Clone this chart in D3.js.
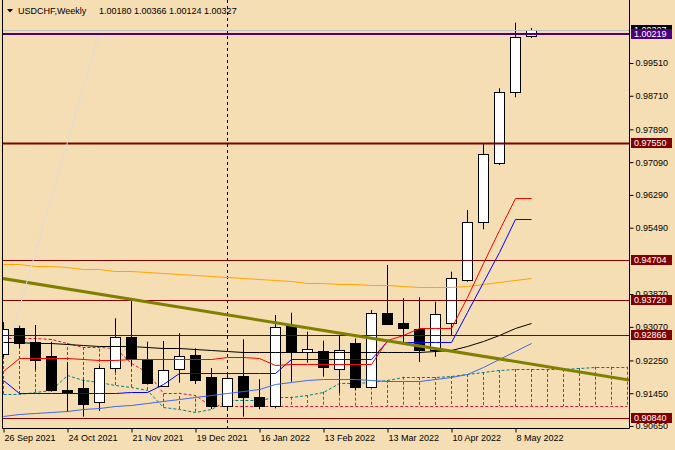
<!DOCTYPE html>
<html>
<head>
<meta charset="utf-8">
<script src="https://d3js.org/d3.v7.min.js"></script>
<style>
  body { margin: 0; background: #F5DEB3; }
  svg { display: block; font-family: "Liberation Sans", Arial, sans-serif; }
</style>
</head>
<body>
<script>
// USDCHF weekly, bars from 26 Sep 2021 to 15 May 2022
const opens  = [0.92407, 0.93042, 0.92693, 0.92358, 0.91529, 0.91570, 0.91228, 0.92058, 0.92822, 0.92261,
                0.91634, 0.92034, 0.92383, 0.91853, 0.91138, 0.91870, 0.91350, 0.91138, 0.93091, 0.92449,
                0.92488, 0.92034, 0.92683, 0.91609, 0.93415, 0.93157, 0.93010, 0.92505, 0.93157, 0.94214,
                0.95636, 0.97062, 0.98795, 1.00180];
const highs  = [0.93188, 0.93098, 0.93115, 0.92707, 0.92212, 0.91773, 0.92114, 0.93279, 0.93774, 0.92707,
                0.92725, 0.92913, 0.92546, 0.92066, 0.91968, 0.92766, 0.91790, 0.93359, 0.93415, 0.92952,
                0.92732, 0.92871, 0.92790, 0.93481, 0.94580, 0.93767, 0.93791, 0.93684, 0.94416, 0.95922,
                0.97550, 0.98893, 1.00494, 1.00366];
const lows   = [0.92334, 0.92554, 0.92017, 0.91487, 0.90992, 0.90877, 0.91016, 0.91968, 0.92114, 0.91675,
                0.91602, 0.91707, 0.91675, 0.91065, 0.91089, 0.90877, 0.91058, 0.91082, 0.91731, 0.92195,
                0.91853, 0.91455, 0.91529, 0.91585, 0.93115, 0.92627, 0.92212, 0.92341, 0.92871, 0.94172,
                0.95451, 0.97020, 0.98673, 1.00124];
const closes = [0.93018, 0.92668, 0.92244, 0.91529, 0.91448, 0.91187, 0.92058, 0.92815, 0.92285, 0.91707,
                0.92017, 0.92358, 0.91773, 0.91138, 0.91814, 0.91350, 0.91121, 0.93059, 0.92488, 0.92529,
                0.92097, 0.92505, 0.91609, 0.93415, 0.93140, 0.93035, 0.92488, 0.93376, 0.94255, 0.95636,
                0.97289, 0.98795, 1.00137, 1.00327];

// ichimoku
const tenkan = [0.91992, 0.92317, 0.92317, 0.92317, 0.92310, 0.92285, 0.92261, 0.92261, 0.92273, 0.92285,
                0.92285, 0.92285, 0.92285, 0.92285, 0.92341, 0.92341, 0.92310, 0.92139, 0.92163, 0.92163,
                0.92163, 0.92163, 0.92163, 0.92163, 0.92749, 0.92871, 0.93035, 0.93049, 0.93049, 0.93806,
                0.94628, 0.95422, 0.96208, 0.96208];
const kijun  = [0.91773, 0.91448, 0.91448, 0.91448, 0.91448, 0.91448, 0.91448, 0.91448, 0.91487, 0.91487,
                0.91675, 0.91936, 0.91944, 0.91944, 0.91944, 0.91944, 0.91944, 0.91936, 0.92278, 0.92278,
                0.92278, 0.92278, 0.92278, 0.92278, 0.92732, 0.92708, 0.92708, 0.92708, 0.92708, 0.93432,
                0.94172, 0.94897, 0.95695, 0.95695];
// senkou spans run 6 bars past the last candle (chart edge)
const spanA  = [0.91431, 0.91431, 0.91480, 0.91529, 0.91895, 0.91773, 0.91731, 0.91651, 0.91602, 0.91529,
                0.91121, 0.91065, 0.90999, 0.91065, 0.91285, 0.91285, 0.91285, 0.91358, 0.91365, 0.91407,
                0.91487, 0.91707, 0.91707, 0.91731, 0.91773, 0.91853, 0.91846, 0.91846, 0.91870, 0.91919,
                0.91968, 0.92017, 0.92041, 0.92041, 0.92041, 0.92041, 0.92066, 0.92097, 0.92097, 0.92097];
const spanB  = [0.92790, 0.92790, 0.92790, 0.92773, 0.92676, 0.92578, 0.92578, 0.92554, 0.92188, 0.91968,
                0.91463, 0.91463, 0.91407, 0.91138, 0.91138, 0.91138, 0.91138, 0.91138, 0.91138, 0.91138,
                0.91138, 0.91138, 0.91138, 0.91138, 0.91138, 0.91138, 0.91138, 0.91138, 0.91138, 0.91138,
                0.91138, 0.91138, 0.91138, 0.91138, 0.91138, 0.91138, 0.91138, 0.91138, 0.91138, 0.91138];

// moving averages
const maBlack  = [0.92700, 0.92693, 0.92676, 0.92668, 0.92651, 0.92627, 0.92602, 0.92602, 0.92602, 0.92585,
                  0.92554, 0.92542, 0.92522, 0.92505, 0.92481, 0.92463, 0.92463, 0.92463, 0.92463, 0.92463,
                  0.92463, 0.92463, 0.92463, 0.92463, 0.92463, 0.92463, 0.92468, 0.92488, 0.92505, 0.92610,
                  0.92732, 0.92881, 0.93032, 0.93171];
const maBlue   = [0.90894, 0.90931, 0.90967, 0.90997, 0.91028, 0.91065, 0.91097, 0.91131, 0.91162, 0.91211,
                  0.91260, 0.91309, 0.91358, 0.91407, 0.91455, 0.91504, 0.91565, 0.91663, 0.91724, 0.91773,
                  0.91790, 0.91790, 0.91785, 0.91773, 0.91748, 0.91736, 0.91748, 0.91785, 0.91846, 0.91919,
                  0.92090, 0.92285, 0.92481, 0.92668];
const maOrange = [0.94616, 0.94592, 0.94567, 0.94543, 0.94519, 0.94494, 0.94470, 0.94445, 0.94421, 0.94401,
                  0.94384, 0.94360, 0.94336, 0.94311, 0.94287, 0.94262, 0.94231, 0.94206, 0.94177, 0.94152,
                  0.94133, 0.94116, 0.94104, 0.94091, 0.94091, 0.94067, 0.94043, 0.94035, 0.94035, 0.94067,
                  0.94116, 0.94165, 0.94214, 0.94255];

// objects drawn on the chart
const levels      = [0.97550, 0.94704, 0.93720, 0.92866, 0.90840];
const purpleLevel = 1.00219;
const oliveTrend  = [[-0.125, 0.94257], [39.125, 0.91775]];
const grayTrend   = [[0.625, 0.92993], [6.0625, 1.00315]];
const yearBreak   = 14; // first bar of 2022

// axes
const priceTicks = [0.99510, 0.98710, 0.97890, 0.97090, 0.96290, 0.95490, 0.93870, 0.93070, 0.92250, 0.91450, 0.90650];
const dateTicks  = [0, 4, 8, 12, 16, 20, 24, 28, 32];
const dateLabels = ["26 Sep 2021", "24 Oct 2021", "21 Nov 2021", "19 Dec 2021", "16 Jan 2022",
                    "13 Feb 2022", "13 Mar 2022", "10 Apr 2022", "8 May 2022"];

const W = 675, H = 450;
const plot = { left: 2, right: 629, top: 0, bottom: 429 };

const x = d3.scaleLinear().domain([-0.0625, 39.125]).range([plot.left, plot.right]);
const y = d3.scaleLinear().domain([0.905766, 1.009745]).range([plot.bottom, 3]);
const px = i => Math.round(x(i)) + 0.5;

const svg = d3.select("body").append("svg").attr("width", W).attr("height", H);
svg.append("rect").attr("width", W).attr("height", H).attr("fill", "#F5DEB3");

svg.append("clipPath").attr("id", "clip")
  .append("rect")
  .attr("x", plot.left).attr("y", plot.top)
  .attr("width", plot.right - plot.left).attr("height", plot.bottom - plot.top);
const g = svg.append("g").attr("clip-path", "url(#clip)");

// cloud histogram
g.append("g").selectAll("line")
  .data(d3.range(spanA.length))
  .join("line")
  .attr("x1", px).attr("x2", px)
  .attr("y1", i => y(spanA[i])).attr("y2", i => y(spanB[i]))
  .attr("stroke", i => spanA[i] >= spanB[i] ? "#008080" : "#DC143C")
  .attr("stroke-dasharray", "3,2");

const path = arr => d3.line().x((d, i) => px(i)).y(d => Math.round(y(d)) + 0.5)(arr);

g.append("path").attr("d", path(spanA)).attr("fill", "none")
  .attr("stroke", "#008080").attr("stroke-dasharray", "3,2");
g.append("path").attr("d", path(spanB)).attr("fill", "none")
  .attr("stroke", "#DC143C").attr("stroke-dasharray", "3,2");

// year separator
g.append("line")
  .attr("x1", px(yearBreak)).attr("x2", px(yearBreak))
  .attr("y1", plot.top).attr("y2", plot.bottom)
  .attr("stroke", "#000").attr("stroke-dasharray", "3,3");

// candles
const bw = 10;
const bars = g.append("g").selectAll("g").data(d3.range(closes.length)).join("g");
bars.append("line")
  .attr("x1", px).attr("x2", px)
  .attr("y1", i => y(highs[i])).attr("y2", i => y(lows[i]))
  .attr("stroke", "#000");
bars.append("rect")
  .attr("x", i => px(i) - bw / 2)
  .attr("y", i => Math.round(y(Math.max(opens[i], closes[i]))) + 0.5)
  .attr("width", bw)
  .attr("height", i => Math.max(1, Math.round(Math.abs(y(opens[i]) - y(closes[i])))))
  .attr("fill", i => closes[i] >= opens[i] ? "#fff" : "#000")
  .attr("stroke", "#000");

// indicator lines
[[maOrange, "#FFA500"], [maBlue, "#4169E1"], [maBlack, "#000"], [kijun, "#0000FF"], [tenkan, "#FF0000"]]
  .forEach(([arr, c]) => {
    g.append("path").attr("d", path(arr)).attr("fill", "none").attr("stroke", c);
  });

// horizontal levels
g.selectAll(".lvl").data(levels).join("line")
  .attr("class", "lvl")
  .attr("x1", plot.left).attr("x2", plot.right)
  .attr("y1", d => Math.round(y(d)) + 0.5).attr("y2", d => Math.round(y(d)) + 0.5)
  .attr("stroke", "#800000")
  .attr("stroke-width", (d, i) => i === 0 ? 2 : 1);

// trend lines
g.append("line")
  .attr("x1", x(oliveTrend[0][0])).attr("y1", y(oliveTrend[0][1]))
  .attr("x2", x(oliveTrend[1][0])).attr("y2", y(oliveTrend[1][1]))
  .attr("stroke", "#808000").attr("stroke-width", 3);
g.append("line")
  .attr("x1", x(grayTrend[0][0])).attr("y1", y(grayTrend[0][1]))
  .attr("x2", x(grayTrend[1][0])).attr("y2", y(grayTrend[1][1]))
  .attr("stroke", "#DCDCDC");

// bid line and purple level
const lastClose = closes[closes.length - 1];
g.append("line")
  .attr("x1", plot.left).attr("x2", plot.right)
  .attr("y1", Math.round(y(lastClose)) + 0.5).attr("y2", Math.round(y(lastClose)) + 0.5)
  .attr("stroke", "#C0C0C0");
g.append("line")
  .attr("x1", plot.left).attr("x2", plot.right)
  .attr("y1", Math.round(y(purpleLevel))).attr("y2", Math.round(y(purpleLevel)))
  .attr("stroke", "#4B0082").attr("stroke-width", 2);

// frame
svg.append("path")
  .attr("d", `M${plot.left + 0.5},0V${plot.bottom - 0.5}H${plot.right + 0.5}V0`)
  .attr("fill", "none").attr("stroke", "#000");

// price axis
const yAxis = d3.axisRight(y).tickValues(priceTicks).tickFormat(d3.format(".5f")).tickSize(4).tickPadding(2);
svg.append("g")
  .attr("transform", `translate(${plot.right + 0.5},0)`)
  .call(yAxis)
  .call(a => a.select(".domain").remove())
  .attr("font-family", null).attr("font-size", 9);

// date axis
const xAxis = d3.axisBottom(x).tickValues(dateTicks).tickFormat((d, i) => dateLabels[i]).tickSize(4).tickPadding(2);
svg.append("g")
  .attr("transform", `translate(0.5,${plot.bottom - 0.5})`)
  .call(xAxis)
  .call(a => a.select(".domain").remove())
  .call(a => a.selectAll("line").attr("transform", d => `translate(${px(d) - x(d) - 0.5},0)`))
  .call(a => a.selectAll("text").attr("text-anchor", "start").attr("x", 0.5))
  .attr("font-family", null).attr("font-size", 9);

// price tags on the axis
const tags = [[lastClose, "#000"], [purpleLevel, "#4B0082"]].concat(levels.map(v => [v, "#800000"]));
const tag = svg.append("g").selectAll("g").data(tags).join("g")
  .attr("transform", d => `translate(${plot.right + 2},${Math.round(y(d[0]))})`);
tag.append("rect")
  .attr("x", 0).attr("y", -5).attr("width", 41).attr("height", 10)
  .attr("fill", d => d[1]);
tag.append("text")
  .attr("x", 3).attr("dy", "0.33em")
  .attr("font-size", 9).attr("fill", "#fff")
  .text(d => d3.format(".5f")(d[0]));

// title
svg.append("path").attr("d", "M7,9L13,9L10,12.5Z").attr("fill", "#000");
svg.append("text").attr("x", 18).attr("y", 14).attr("font-size", 9)
  .text("USDCHF,Weekly");
svg.append("text").attr("x", 99).attr("y", 14).attr("font-size", 9)
  .text([opens, highs, lows, closes].map(a => d3.format(".5f")(a[a.length - 1])).join(" "));
</script>
</body>
</html>
